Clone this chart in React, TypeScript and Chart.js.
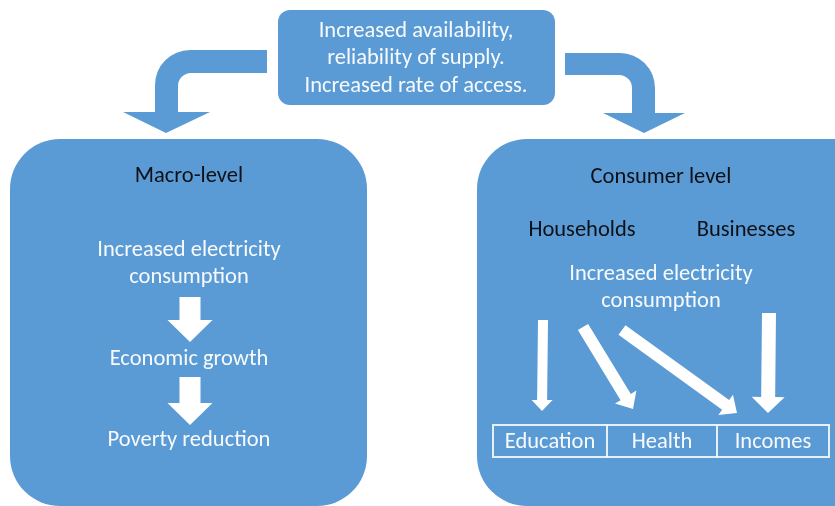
import React, { useEffect, useRef } from "react";
import { Chart, registerables } from "chart.js";

Chart.register(...registerables);

// ---- Diagram content (text) ----
const topLines = ["Increased availability,", "reliability of supply.", "Increased rate of access."];
const panelTitles = ["Macro-level", "Consumer level"];
const macroSteps = [["Increased electricity", "consumption"], ["Economic growth"], ["Poverty reduction"]];
const consumerGroups = ["Households", "Businesses"];
const consumerCenter = ["Increased electricity", "consumption"];
const outcomes = ["Education", "Health", "Incomes"];

// ---- Diagram geometry in diagram units (x: 0..835, y: 0..506) ----
const topBox = [278, 10, 555, 105, 12]; // x0, y0, x1, y1, radius
const panels = [
  [10, 139, 367, 506, 50],
  [477, 139, 890, 506, 50],
];
const titleY = [176, 177];
const panelCenterX = [189, 661];
const macroStepY = [[250, 277], [359], [440]];
const macroArrows = [
  [190, 297, 190, 342], // x0,y0,x1,y1
  [190, 377, 190, 425],
];
const groupX = [582, 746];
const groupY = 230;
const consumerCenterY = [274, 301];
const consumerArrows = [
  // x0, y0, x1, y1, shaftW, headW, headL
  [543, 320, 542, 411, 10, 21, 11],
  [583, 327, 633, 409, 12, 25, 14],
  [622, 330, 737, 413, 12, 25, 14],
  [769, 313, 768, 413, 14, 33, 16],
];
const tableEdges = [493, 607, 717, 829];
const tableY = [425, 457];

const BLUE = "#5b9bd5";
const WHITE = "#f7fafd";
const DARK = "#0d1117";
const FONT = "Carlito, Lato, 'Noto Sans', sans-serif";
const WHITE_SIZE = 22.5;
const DARK_SIZE = 22.5;

function diagramPlugin() {
  return {
    id: "diagram",
    beforeDraw(chart: any) {
      const ctx = chart.ctx;
      ctx.save();
      ctx.fillStyle = "#ffffff";
      ctx.fillRect(0, 0, chart.width, chart.height);
      ctx.restore();
    },
    afterDatasetsDraw(chart: any) {
      const ctx: CanvasRenderingContext2D = chart.ctx;
      const sx = chart.scales.x;
      const sy = chart.scales.y;
      const X = (v: number) => sx.getPixelForValue(v);
      const Y = (v: number) => sy.getPixelForValue(v);

      const roundRect = (b: number[]) => {
        const [x0, y0, x1, y1, r] = b;
        const a = X(x0), c = X(x1), t = Y(y0), bt = Y(y1);
        ctx.beginPath();
        ctx.moveTo(a + r, t);
        ctx.lineTo(c - r, t);
        ctx.arcTo(c, t, c, t + r, r);
        ctx.lineTo(c, bt - r);
        ctx.arcTo(c, bt, c - r, bt, r);
        ctx.lineTo(a + r, bt);
        ctx.arcTo(a, bt, a, bt - r, r);
        ctx.lineTo(a, t + r);
        ctx.arcTo(a, t, a + r, t, r);
        ctx.closePath();
        ctx.fill();
      };

      const blockArrow = (x0: number, y0: number, x1: number, y1: number, sw: number, hw: number, hl: number) => {
        const ax = X(x0), ay = Y(y0), bx = X(x1), by = Y(y1);
        const dx = bx - ax, dy = by - ay;
        const len = Math.hypot(dx, dy);
        const ux = dx / len, uy = dy / len;
        const nx = -uy, ny = ux;
        const hx = bx - ux * hl, hy = by - uy * hl;
        ctx.beginPath();
        ctx.moveTo(ax + nx * sw / 2, ay + ny * sw / 2);
        ctx.lineTo(hx + nx * sw / 2, hy + ny * sw / 2);
        ctx.lineTo(hx + nx * hw / 2, hy + ny * hw / 2);
        ctx.lineTo(bx, by);
        ctx.lineTo(hx - nx * hw / 2, hy - ny * hw / 2);
        ctx.lineTo(hx - nx * sw / 2, hy - ny * sw / 2);
        ctx.lineTo(ax - nx * sw / 2, ay - ny * sw / 2);
        ctx.closePath();
        ctx.fill();
      };

      const text = (s: string, x: number, y: number, color: string, size: number, weight = "normal") => {
        ctx.fillStyle = color;
        ctx.font = `${weight} ${size}px ${FONT}`;
        ctx.textAlign = "center";
        ctx.textBaseline = "middle";
        ctx.fillText(s, X(x), Y(y));
      };

      ctx.save();
      ctx.fillStyle = BLUE;

      panels.forEach((p) => roundRect(p));
      roundRect(topBox);

      // left curved arrow
      ctx.beginPath();
      ctx.moveTo(X(267), Y(50));
      ctx.lineTo(X(190), Y(50));
      ctx.arcTo(X(155), Y(50), X(155), Y(85), 35);
      ctx.lineTo(X(155), Y(112));
      ctx.lineTo(X(123), Y(112));
      ctx.lineTo(X(166), Y(133));
      ctx.lineTo(X(210), Y(112));
      ctx.lineTo(X(178), Y(112));
      ctx.lineTo(X(178), Y(86));
      ctx.arcTo(X(178), Y(73), X(191), Y(73), 13);
      ctx.lineTo(X(267), Y(73));
      ctx.closePath();
      ctx.fill();

      // right curved arrow
      ctx.beginPath();
      ctx.moveTo(X(565), Y(53));
      ctx.lineTo(X(620), Y(53));
      ctx.arcTo(X(655), Y(53), X(655), Y(88), 35);
      ctx.lineTo(X(655), Y(113));
      ctx.lineTo(X(685), Y(113));
      ctx.lineTo(X(644), Y(133));
      ctx.lineTo(X(603), Y(113));
      ctx.lineTo(X(632), Y(113));
      ctx.lineTo(X(632), Y(88));
      ctx.arcTo(X(632), Y(75), X(619), Y(75), 13);
      ctx.lineTo(X(565), Y(75));
      ctx.closePath();
      ctx.fill();

      const topY = [31, 58, 86];
      topLines.forEach((s, i) => text(s, 416, topY[i], WHITE, WHITE_SIZE));

      panelTitles.forEach((s, i) => text(s, panelCenterX[i], titleY[i], DARK, DARK_SIZE));

      macroSteps.forEach((lines, i) =>
        lines.forEach((s, j) => text(s, panelCenterX[0], macroStepY[i][j], WHITE, WHITE_SIZE))
      );
      ctx.fillStyle = "#ffffff";
      macroArrows.forEach((a) => blockArrow(a[0], a[1], a[2], a[3], 21, 45, 22));

      consumerGroups.forEach((s, i) => text(s, groupX[i], groupY, DARK, DARK_SIZE));
      consumerCenter.forEach((s, i) => text(s, panelCenterX[1], consumerCenterY[i], WHITE, WHITE_SIZE));
      ctx.fillStyle = "#ffffff";
      consumerArrows.forEach((a) => blockArrow(a[0], a[1], a[2], a[3], a[4], a[5], a[6]));

      ctx.strokeStyle = "rgba(255,255,255,0.85)";
      ctx.lineWidth = 2;
      ctx.strokeRect(X(tableEdges[0]), Y(tableY[0]), X(tableEdges[3]) - X(tableEdges[0]), Y(tableY[1]) - Y(tableY[0]));
      [tableEdges[1], tableEdges[2]].forEach((e) => {
        ctx.beginPath();
        ctx.moveTo(X(e), Y(tableY[0]));
        ctx.lineTo(X(e), Y(tableY[1]));
        ctx.stroke();
      });
      outcomes.forEach((s, i) =>
        text(s, (tableEdges[i] + tableEdges[i + 1]) / 2, (tableY[0] + tableY[1]) / 2 + 1, WHITE, WHITE_SIZE)
      );

      ctx.restore();
    },
  };
}

export default function App() {
  const ref = useRef<HTMLCanvasElement | null>(null);
  useEffect(() => {
    if (!ref.current) return;
    const chart = new Chart(ref.current, {
      type: "scatter",
      data: { datasets: [{ data: [] }] },
      options: {
        animation: false,
        responsive: false,
        maintainAspectRatio: false,
        layout: { padding: 0 },
        plugins: { legend: { display: false }, tooltip: { enabled: false }, title: { display: false } },
        scales: {
          x: { type: "linear", min: 0, max: 835, display: false },
          y: { type: "linear", min: 0, max: 506, reverse: true, display: false },
        },
      },
      plugins: [diagramPlugin()],
    } as any);
    return () => chart.destroy();
  }, []);
  return (
    <div style={{ position: "fixed", left: 0, top: 0, width: 835, height: 506, background: "#fff" }}>
      <canvas ref={ref} width={835} height={506} style={{ width: 835, height: 506, display: "block" }} />
    </div>
  );
}
